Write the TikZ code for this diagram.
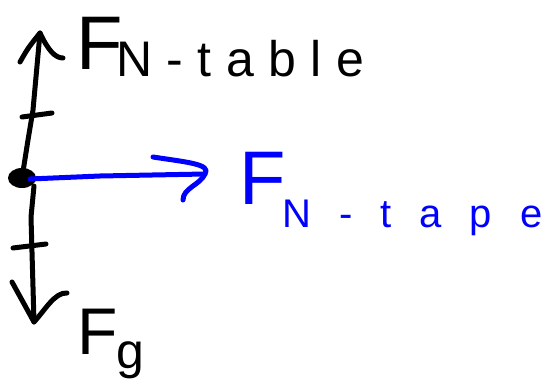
\documentclass[tikz,border=0pt]{standalone}
\usepackage{fontspec}
\setmainfont{Liberation Sans}
\begin{document}
\begin{tikzpicture}[x=1pt,y=-1pt,
  stroke/.style={line width=5pt,line cap=round,line join=round},
  ink/.style={stroke,draw=black},
  blueink/.style={stroke,draw=blue},
  lbl/.style={anchor=base west,inner sep=0pt}]
\useasboundingbox (0,0) rectangle (552,382);
% points
\coordinate (o) at (22,178);
\coordinate (up) at (40,33);
\coordinate (down) at (34,322);
\coordinate (right) at (205,174);
% up arrow (F_N-table)
\draw[ink] (o) -- (28,140) -- (33,110) -- (up);
\draw[ink] (22,117) -- (52,113);
\draw[ink] (20,62) .. controls (28,48) .. (up) .. controls (48,50) and (55,58) .. (63,58);
% down arrow (F_g)
\draw[ink] (34,186) -- (31,217) -- (down);
\draw[ink] (13,248) -- (46,244);
\draw[ink] (12,282) -- (down) .. controls (45,310) and (55,292) .. (67,293);
% dot
\fill[black] (o) ellipse [x radius=14, y radius=10];
% blue arrow (F_N-tape)
\draw[blueink] (30,179) -- (100,176) -- (right);
\draw[blueink] (153,157) .. controls (185,162) and (212,164) .. (right) .. controls (200,185) and (183,188) .. (183,200);
% labels
\node[lbl,font=\fontsize{76}{76}\selectfont] (Ft) at (76,70) {F};
\node[lbl,font=\fontsize{50}{50}\selectfont\addfontfeature{LetterSpace=29}] (st) at (116,77) {N-table};
\node[lbl,text=blue,font=\fontsize{76}{76}\selectfont] (Fp) at (239,205) {F};
\node[lbl,text=blue,font=\fontsize{40}{40}\selectfont\addfontfeature{LetterSpace=70}] (sp) at (282,228) {N-tape};
\node[lbl,font=\fontsize{66}{66}\selectfont] (Fg) at (77,355) {F};
\node[lbl,font=\fontsize{50}{50}\selectfont] (sg) at (116,368) {g};
\end{tikzpicture}
\end{document}
